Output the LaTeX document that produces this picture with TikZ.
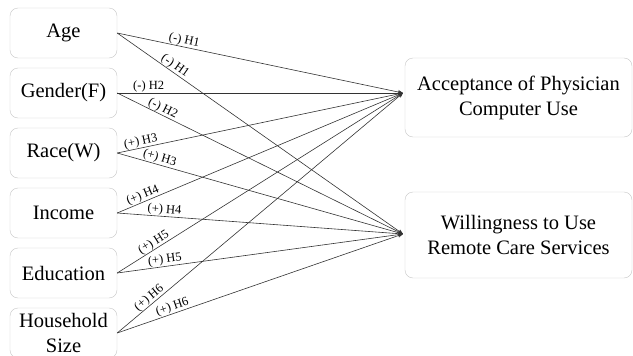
\documentclass[tikz,border=0pt]{standalone}
\usepackage{fontspec}
\setmainfont{Liberation Serif}
\usetikzlibrary{arrows.meta}

\begin{document}
\begin{tikzpicture}[x=1pt,y=-1pt,
    box/.style={draw=gray!45,rounded corners=8pt,align=center,inner sep=0pt,
      font=\fontsize{20.5}{25}\selectfont},
    factor/.style={box,minimum width=107pt,minimum height=50pt},
    outcome/.style={box,minimum width=227pt},
    link/.style={draw=black!80,line width=0.6pt,-{Stealth[length=5pt,width=4pt]}},
    hyp/.style={font=\fontsize{12.5}{12.5}\selectfont,sloped,above,inner sep=0.3pt}]

    \useasboundingbox (0,0) rectangle (633,356);
    \clip (0,0) rectangle (633,356);

    % Demographic factors
    \node[factor] (age)    at (63.5,33)  {Age};
    \node[factor] (gender) at (63.5,93)  {Gender(F)};
    \node[factor] (race)   at (63.5,153) {Race(W)};
    \node[factor] (income) at (63.5,213) {Income};
    \node[factor] (edu)    at (63.5,273) {Education};
    \node[factor] (house)  at (63.5,333) {Household\\Size};

    % Outcomes
    \node[outcome,minimum height=79pt] (acc)  at (518.5,97.5) {Acceptance of Physician\\Computer Use};
    \node[outcome,minimum height=86pt] (will) at (518.5,235)  {Willingness to Use\\Remote Care Services};
    \coordinate (accIn)  at (403,93);
    \coordinate (willIn) at (403,234);

    % Hypotheses
    \foreach \src/\sign/\num/\pa/\pb in {age/-/1/0.23/0.19, gender/-/2/0.11/0.15,
        race/+/3/0.087/0.143, income/+/4/0.098/0.164, edu/+/5/0.14/0.17, house/+/6/0.126/0.20} {
      \draw[link] (\src.east) -- node[hyp,pos=\pa] {(\sign) H\num} (accIn);
      \draw[link] (\src.east) -- node[hyp,pos=\pb] {(\sign) H\num} (willIn);
    }

\end{tikzpicture}
\end{document}
